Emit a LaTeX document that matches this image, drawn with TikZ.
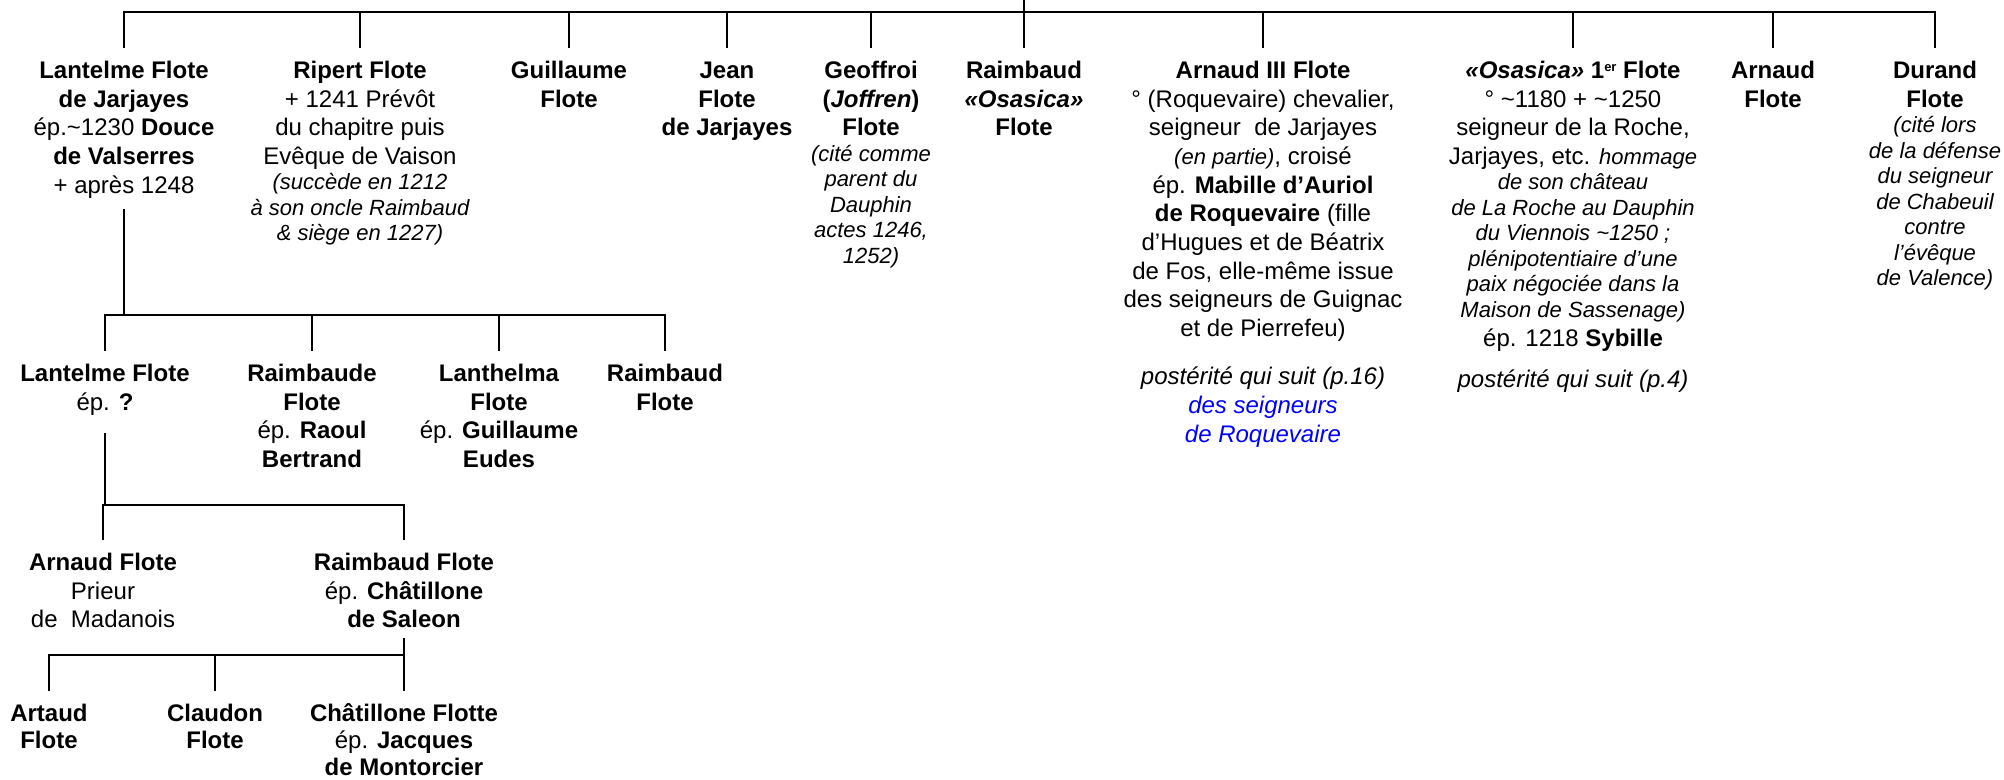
\documentclass[tikz,border=0pt]{standalone}
\usepackage{fontspec}
\setmainfont{Liberation Sans}
\usepackage{xcolor}
\newcommand{\sm}[1]{{\fontsize{11}{12.75}\selectfont\itshape #1}}
\newcommand{\tild}{\textasciitilde}
\newcommand{\fst}{\rule{0pt}{10pt}}
\newcommand{\ib}{\\[-1.6pt]}
\newcommand{\supsc}[1]{\raisebox{3.6pt}{\fontsize{6.5}{7}\selectfont #1}}
\begin{document}
\begin{tikzpicture}[x=0.5pt,y=-0.5pt,
  person/.style={align=center, anchor=north, inner xsep=0pt, inner ysep=5pt,
    font=\fontsize{12}{14.35}\selectfont},
  tight/.style={font=\fontsize{12}{13.5}\selectfont},
  conn/.style={line width=1pt, line join=miter}]
\useasboundingbox (0,0) rectangle (2004,780);

% generation 1
\node[person] (a1) at (124,48) {\fst\textbf{Lantelme Flote}\\\textbf{de Jarjayes}\\ép.\tild1230 \textbf{Douce}\\\textbf{de Valserres}\\+ après 1248};
\node[person] (a2) at (360,48) {\fst\textbf{Ripert Flote}\\+ 1241 Prévôt\\du chapitre puis\\Evêque de Vaison\ib\sm{(succède en 1212}\ib\sm{à son oncle Raimbaud}\ib\sm{\& siège en 1227)}};
\node[person] (a3) at (569,48) {\fst\textbf{Guillaume}\\\textbf{Flote}};
\node[person] (a4) at (727,48) {\fst\textbf{Jean}\\\textbf{Flote}\\\textbf{de Jarjayes}};
\node[person] (a5) at (871,48) {\fst\textbf{Geoffroi}\\\textbf{(\textit{Joffren})}\\\textbf{Flote}\ib\sm{(cité comme}\ib\sm{parent du}\ib\sm{Dauphin}\ib\sm{actes 1246,}\ib\sm{1252)}};
\node[person] (a6) at (1024,48) {\fst\textbf{Raimbaud}\\\textbf{\textit{«Osasica»}}\\\textbf{Flote}};
\node[person] (a7) at (1263,48) {\fst\textbf{Arnaud III Flote}\\° (Roquevaire) chevalier,\\seigneur\ \ de Jarjayes\\\sm{(en partie)}, croisé\\ép. \textbf{Mabille d’Auriol}\\\textbf{de Roquevaire} (fille\\d’Hugues et de Béatrix\\de Fos, elle-même issue\\des seigneurs de Guignac\\et de Pierrefeu)\\[9.65pt]\textit{postérité qui suit (p.16)}\\\textcolor{blue}{\textit{des seigneurs}}\\\textcolor{blue}{\textit{de Roquevaire}}};
\node[person] (a8) at (1573,48) {\fst\textbf{\textit{«Osasica»} 1\supsc{er} Flote}\\° \tild1180 + \tild1250\\seigneur de la Roche,\\Jarjayes, etc. \sm{hommage}\ib\sm{de son château}\ib\sm{de La Roche au Dauphin}\ib\sm{du Viennois \tild1250 ;}\ib\sm{plénipotentiaire d’une}\ib\sm{paix négociée dans la}\ib\sm{Maison de Sassenage)}\\ép. 1218 \textbf{Sybille}\\[6.15pt]\textit{postérité qui suit (p.4)}};
\node[person] (a9) at (1773,48) {\fst\textbf{Arnaud}\\\textbf{Flote}};
\node[person] (a10) at (1935,48) {\fst\textbf{Durand}\\\textbf{Flote}\ib\sm{(cité lors}\ib\sm{de la défense}\ib\sm{du seigneur}\ib\sm{de Chabeuil}\ib\sm{contre}\ib\sm{l’évêque}\ib\sm{de Valence)}};

% generation 2
\node[person] (b1) at (105,351) {\fst\textbf{Lantelme Flote}\\ép. \textbf{?}};
\node[person] (b2) at (312,351) {\fst\textbf{Raimbaude}\\\textbf{Flote}\\ép. \textbf{Raoul}\\\textbf{Bertrand}};
\node[person] (b3) at (499,351) {\fst\textbf{Lanthelma}\\\textbf{Flote}\\ép. \textbf{Guillaume}\\\textbf{Eudes}};
\node[person] (b4) at (665,351) {\fst\textbf{Raimbaud}\\\textbf{Flote}};

% generation 3
\node[person] (c1) at (103,540) {\fst\textbf{Arnaud Flote}\\Prieur\\de\ \ Madanois};
\node[person] (c2) at (404,540) {\fst\textbf{Raimbaud Flote}\\ép. \textbf{Châtillone}\\\textbf{de Saleon}};

% generation 4
\node[person,tight] (d1) at (49,691) {\fst\textbf{Artaud}\\\textbf{Flote}};
\node[person,tight] (d2) at (215,691) {\fst\textbf{Claudon}\\\textbf{Flote}};
\node[person,tight] (d3) at (404,691) {\fst\textbf{Châtillone Flotte}\\ép. \textbf{Jacques}\\\textbf{de Montorcier}};

% connectors
\coordinate (root) at (1024,0);
\coordinate (j0) at (1024,12);
\draw[conn] (root) -- (j0);
\draw[conn] (a1.north) -- (a1.north |- j0) -- (a10.north |- j0) -- (a10.north);
\foreach \n in {a2,a3,a4,a5,a6,a7,a8,a9} \draw[conn] (\n.north) -- (\n.north |- j0);

\coordinate (j1) at (a1.south |- 0,315);
\draw[conn] (a1.south) -- (j1);
\draw[conn] (b1.north) -- (b1.north |- j1) -- (b4.north |- j1) -- (b4.north);
\foreach \n in {b2,b3} \draw[conn] (\n.north) -- (\n.north |- j1);

\coordinate (j2) at (b1.south |- 0,505);
\draw[conn, shorten <=4pt] (b1.south) -- (j2);
\draw[conn] (c1.north) -- (c1.north |- j2) -- (c2.north |- j2) -- (c2.north);

\coordinate (j3) at (c2.south |- 0,655);
\draw[conn] (c2.south) -- (j3);
\draw[conn] (d1.north) -- (d1.north |- j3) -- (d3.north |- j3) -- (d3.north);
\draw[conn] (d2.north) -- (d2.north |- j3);
\end{tikzpicture}
\end{document}
